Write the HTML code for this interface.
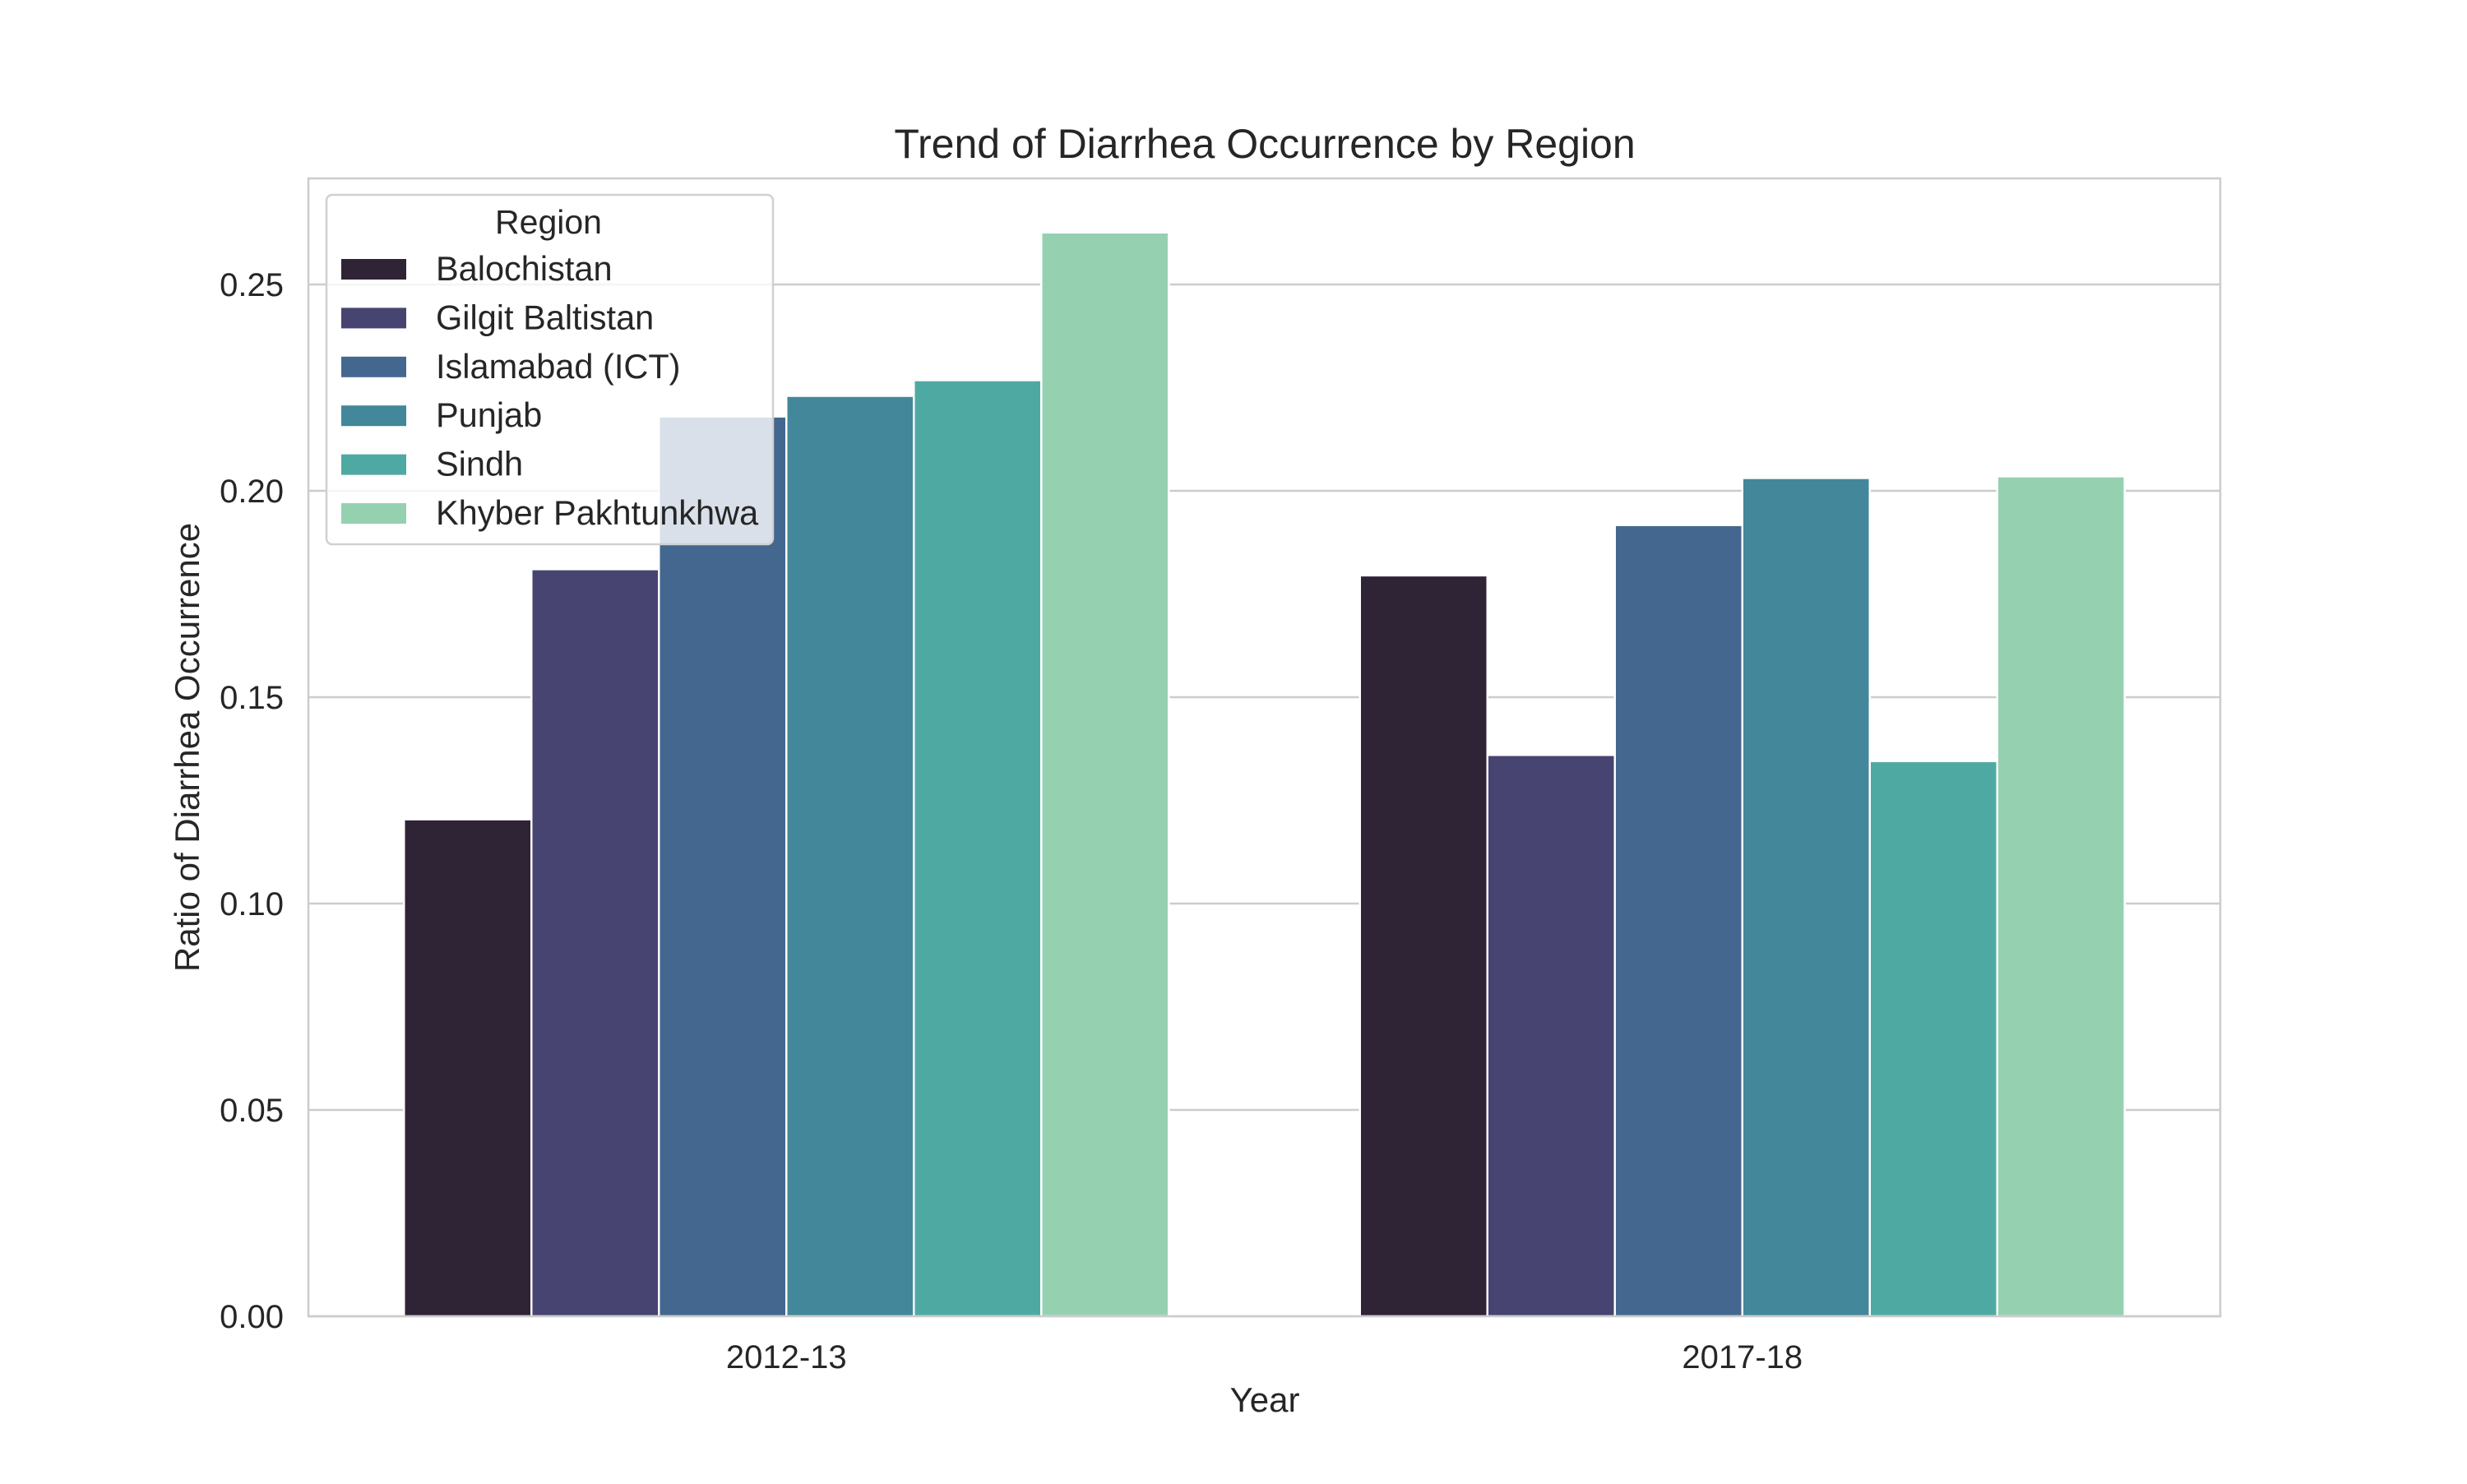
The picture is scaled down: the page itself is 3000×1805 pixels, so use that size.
<!DOCTYPE html>
<html><head><meta charset="utf-8"><style>
body{margin:0;background:#fff;}
svg text{font-family:"Liberation Sans",sans-serif;fill:#262626;}
</style></head><body>
<svg id="chart" width="3000" height="1800" xmlns="http://www.w3.org/2000/svg">
<rect width="3000" height="1800" fill="#fff"/>
<g id="grid"></g>
<g id="bars"></g>
<rect x="375" y="217" width="2325" height="1384" fill="none" stroke="#cccccc" stroke-width="2.5"/>
<g id="ticks"></g>
<text x="1538" y="192" font-size="50" text-anchor="middle">Trend of Diarrhea Occurrence by Region</text>
<text x="1538" y="1717" font-size="42" text-anchor="middle">Year</text>
<text x="0" y="0" font-size="42" text-anchor="middle" transform="translate(242,909) rotate(-90)">Ratio of Diarrhea Occurrence</text>
<g id="legend"></g>
</svg>
<script>
const categories = ["2012-13", "2017-18"];
const regions = ["Balochistan", "Gilgit Baltistan", "Islamabad (ICT)", "Punjab", "Sindh", "Khyber Pakhtunkhwa"];
const balochistan = [0.1204, 0.1795];
const gilgit = [0.181, 0.136];
const islamabad = [0.218, 0.1917];
const punjab = [0.223, 0.2031];
const sindh = [0.2268, 0.1345];
const kp = [0.2626, 0.2035];
const yTicks = [0, 0.05, 0.10, 0.15, 0.20, 0.25];
const yTickLabels = ["0.00", "0.05", "0.10", "0.15", "0.20", "0.25"];
const series = [balochistan, gilgit, islamabad, punjab, sindh, kp];
const colors = ["#2f2336", "#474471", "#43678f", "#42879a", "#4fa9a3", "#95d1b1"];

const NS = "http://www.w3.org/2000/svg";
const L = 375, R = 2700, T = 217, B = 1601;
const yMax = (B - T) / 5020;
const y = v => B - v / yMax * (B - T);
const x = v => L + (v + 0.5) / categories.length * (R - L);
function mk(tag, attrs, parent) {
  const e = document.createElementNS(NS, tag);
  for (const k in attrs) e.setAttribute(k, attrs[k]);
  parent.appendChild(e);
  return e;
}
const grid = document.getElementById("grid");
const ticks = document.getElementById("ticks");
yTicks.forEach((t, i) => {
  const gl = mk("line", {x1: L, x2: R, y1: y(t), y2: y(t), stroke: "#cccccc", "stroke-width": 2.5}, grid);
  
  
  const tl = mk("text", {x: L - 30, y: y(t) + 14, "font-size": 40, "text-anchor": "end"}, ticks);
  tl.textContent = yTickLabels[i];
  
  
});
categories.forEach((c, i) => {
  const tl = mk("text", {x: x(i), y: 1664, "font-size": 40, "text-anchor": "middle"}, ticks);
  tl.textContent = c;
  
  
});
const bars = document.getElementById("bars");
const unit = (R - L) / categories.length;
const bw = unit * 0.8 / regions.length;
series.forEach((s, si) => {
  s.forEach((v, ci) => {
    const x0 = x(ci) - unit * 0.4 + si * bw;
    const r = mk("rect", {x: x0, y: y(v), width: bw, height: B - y(v), fill: colors[si], stroke: "#fff", "stroke-width": 2.5}, bars);
    
    
  });
});
const lg = document.getElementById("legend");
const box = mk("rect", {x: 397, y: 237, width: 543, height: 425, rx: 7, fill: "rgba(255,255,255,0.8)", stroke: "#d0d0d0", "stroke-width": 2.5}, lg);


const lt = mk("text", {x: 667, y: 284, "font-size": 41, "text-anchor": "middle"}, lg);
lt.textContent = "Region";


regions.forEach((r, i) => {
  const cy = 327 + i * 59.4;
  const p = mk("rect", {x: 415, y: cy - 12, width: 79, height: 25, fill: colors[i]}, lg);
  
  
  const t = mk("text", {x: 530, y: cy + 14, "font-size": 41.5}, lg);
  t.textContent = r;
  
  
});
</script>
</body></html>
